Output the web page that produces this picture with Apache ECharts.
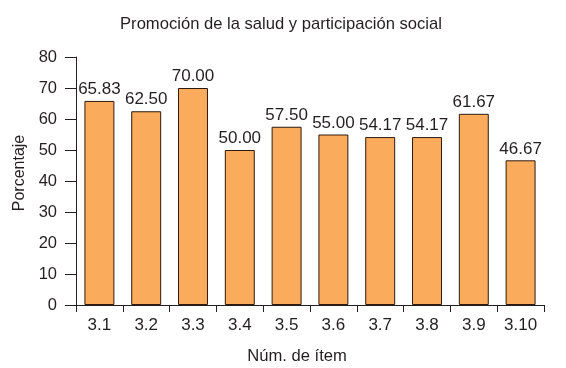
<!DOCTYPE html>
<html>
<head>
<meta charset="utf-8">
<script src="https://cdn.jsdelivr.net/npm/echarts@6/dist/echarts.min.js"></script>
<style>
  html, body { margin: 0; padding: 0; background: #fff; }
  #chart { width: 566px; height: 368px; }
</style>
</head>
<body>
<div id="chart"></div>
<script>
const items = ['3.1', '3.2', '3.3', '3.4', '3.5', '3.6', '3.7', '3.8', '3.9', '3.10'];
const porcentaje = [65.83, 62.50, 70.00, 50.00, 57.50, 55.00, 54.17, 54.17, 61.67, 46.67];

const font = '"Liberation Sans", Arial, sans-serif';
const ink = '#231f20';

const chart = echarts.init(document.getElementById('chart'));

chart.setOption({
  animation: false,
  title: {
    text: 'Promoción de la salud y participación social',
    left: 276,
    top: 11,
    textAlign: 'center',
    textStyle: { fontFamily: font, fontSize: 16.6, fontWeight: 'normal', color: ink }
  },
  grid: { left: 76, right: 22, top: 57, bottom: 63, outerBoundsMode: 'none' },
  xAxis: {
    type: 'category',
    data: items,
    name: 'Núm. de ítem',
    nameLocation: 'middle',
    nameGap: 43,
    nameTextStyle: { fontFamily: font, fontSize: 16.6, color: ink, padding: [0, 26, 0, 0] },
    axisLine: { lineStyle: { color: ink, width: 1 } },
    axisTick: { show: true, length: 7, alignWithLabel: false, lineStyle: { color: ink } },
    axisLabel: { fontFamily: font, fontSize: 17, color: ink, margin: 12 }
  },
  yAxis: {
    type: 'value',
    min: 0,
    max: 80,
    interval: 10,
    name: 'Porcentaje',
    nameLocation: 'middle',
    nameGap: 47,
    nameTextStyle: { fontFamily: font, fontSize: 16, color: ink, padding: [0, 0, 0, 16] },
    axisLine: { show: true, lineStyle: { color: ink, width: 1 } },
    axisTick: { show: true, length: 11, lineStyle: { color: ink } },
    axisLabel: { fontFamily: font, fontSize: 16.5, color: ink, margin: 19 },
    splitLine: { show: false }
  },
  series: [
    {
      type: 'bar',
      data: porcentaje,
      barWidth: '64%',
      itemStyle: { color: '#fbab5c', borderColor: '#2e1a0e', borderWidth: 1 },
      label: {
        show: true,
        position: 'top',
        distance: 3,
        formatter: (p) => p.value.toFixed(2),
        fontFamily: font,
        fontSize: 17,
        color: ink
      }
    }
  ]
});
</script>
</body>
</html>
